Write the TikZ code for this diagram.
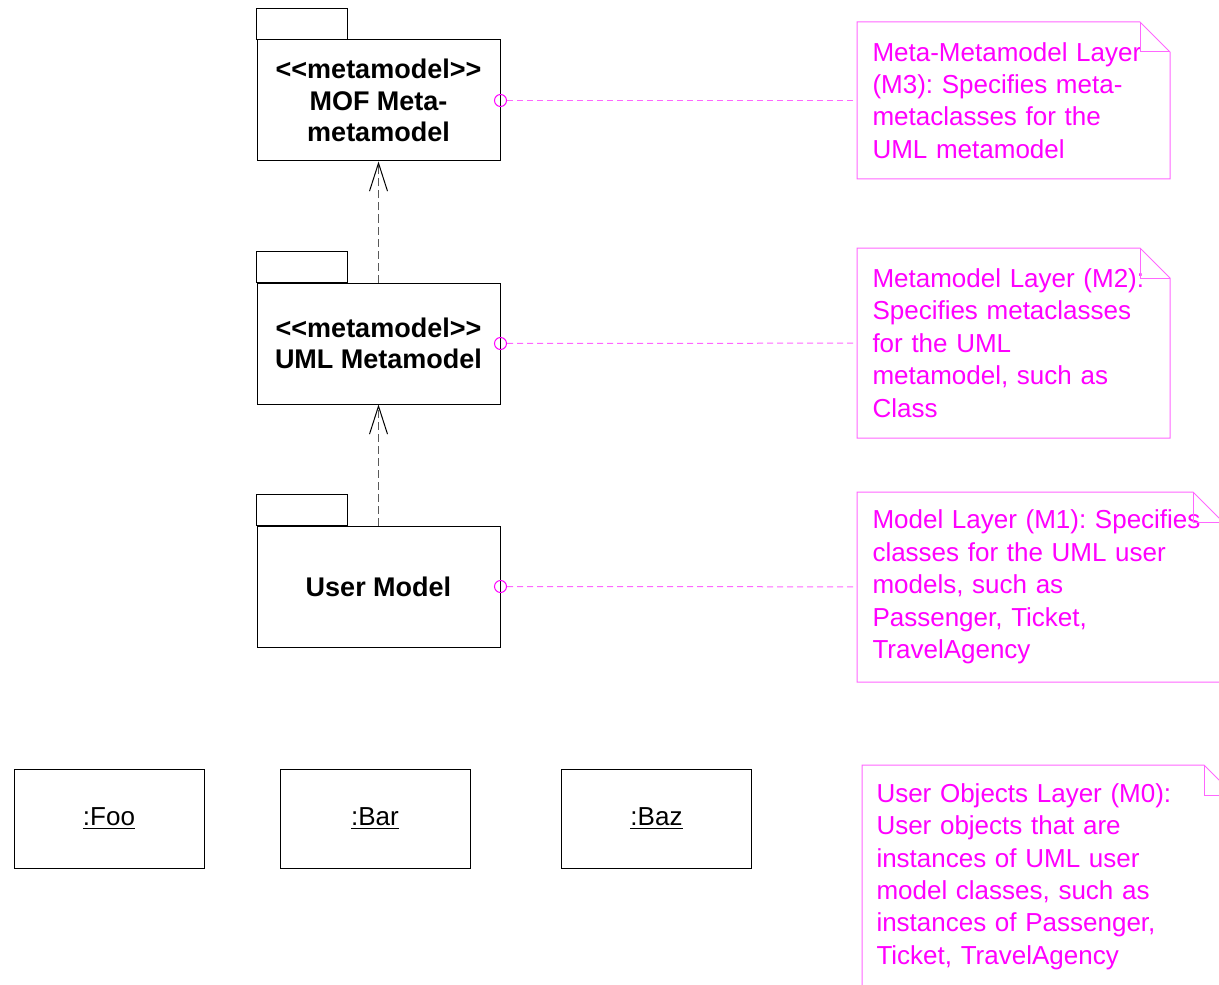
\documentclass[tikz,border=0pt]{standalone}
\usepackage{fontspec}
\setmainfont{Liberation Sans}
\usepackage{xcolor}
\usetikzlibrary{arrows.meta}
\definecolor{notepink}{rgb}{1,0,1}
\definecolor{noteline}{rgb}{1,0.4,1}
\definecolor{depgray}{rgb}{0.35,0.35,0.35}
\frenchspacing

\begin{document}
\begin{tikzpicture}[x=0.5pt, y=-0.5pt, line width=0.5pt,
	pkg/.style={draw=black, fill=white, minimum width=121.5pt, minimum height=60.5pt, inner sep=0pt, align=center, font=\fontsize{13.5}{15.75}\selectfont\bfseries},
	obj/.style={draw=black, minimum width=95pt, minimum height=49.5pt, inner sep=0pt, font=\fontsize{13}{16}\selectfont},
	notetext/.style={anchor=north west, text=notepink, align=left, inner xsep=7.5pt, inner ysep=0pt, font=\fontsize{13}{16.2}\selectfont},
	notebox/.style={draw=noteline},
	anchorring/.style={circle, draw=notepink, minimum size=6pt, inner sep=0pt},
	notelink/.style={draw=noteline, dash pattern=on 3pt off 2pt},
	dep/.style={draw=depgray, line width=0.6pt, dash pattern=on 4pt off 2pt, -{Straight Barb[length=14pt, width=9pt, black, line width=0.5pt]}}]
	\useasboundingbox (0,0) rectangle (1219,984);
	
	% Packages
	\node[pkg] (mof) at (378.5,100.5) {<{}<metamodel>{}>\\MOF Meta-\\metamodel};
	\draw (mof.north west) rectangle ++(91,-31);
	
	\node[pkg] (uml) at (378.5,343.5) {<{}<metamodel>{}>\\UML Metamodel};
	\draw (uml.north west) rectangle ++(91,-31);
	
	\node[pkg] (user) at (378.5,586.5) {User Model};
	\draw (user.north west) rectangle ++(91,-31);
	
	% Dependencies
	\draw[dep] (uml.north) -- (mof.south);
	\draw[dep] (user.north) -- (uml.south);
	
	% Objects
	\node[obj] (foo) at (109,818.5) {\underline{:Foo}};
	\node[obj] (bar) at (375,818.5) {\underline{:Bar}};
	\node[obj] (baz) at (656.5,818.5) {\underline{:Baz}};
	
	% Notes
	% M3
	\node[notetext, text width=141pt, minimum height=78pt] (m3) at (857,22)
	{Meta-Metamodel Layer\\(M3): Specifies meta-\\metaclasses for the\\UML metamodel};
	\draw[notebox] (m3.north west) -- ([xshift=-15pt]m3.north east) -- ([yshift=-15pt]m3.north east) -- (m3.south east) -- (m3.south west) -- cycle;
	\draw[notebox] ([xshift=-15pt]m3.north east) |- ([yshift=-15pt]m3.north east);
	
	% M2
	\node[notetext, text width=141pt, minimum height=94.5pt] (m2) at (857,248)
	{Metamodel Layer (M2):\\Specifies metaclasses\\for the UML\\metamodel, such as\\Class};
	\draw[notebox] (m2.north west) -- ([xshift=-15pt]m2.north east) -- ([yshift=-15pt]m2.north east) -- (m2.south east) -- (m2.south west) -- cycle;
	\draw[notebox] ([xshift=-15pt]m2.north east) |- ([yshift=-15pt]m2.north east);
	
	% M1
	\node[notetext, text width=167.5pt, minimum height=94.5pt] (m1) at (857,492)
	{Model Layer (M1): Specifies\\classes for the UML user\\models, such as\\Passenger, Ticket,\\TravelAgency};
	\draw[notebox] (m1.north west) -- ([xshift=-15pt]m1.north east) -- ([yshift=-15pt]m1.north east) -- (m1.south east) -- (m1.south west) -- cycle;
	\draw[notebox] ([xshift=-15pt]m1.north east) |- ([yshift=-15pt]m1.north east);
	
	% M0
	\node[notetext, inner xsep=7pt, text width=171.5pt, minimum height=111pt] (m0) at (862,765)
	{User Objects Layer (M0):\\User objects that are\\instances of UML user\\model classes, such as\\instances of Passenger,\\Ticket, TravelAgency};
	\draw[notebox] (m0.north west) -- ([xshift=-15pt]m0.north east) -- ([yshift=-15pt]m0.north east) -- (m0.south east) -- (m0.south west) -- cycle;
	\draw[notebox] ([xshift=-15pt]m0.north east) |- ([yshift=-15pt]m0.north east);
	
	% Note links
	\node[anchorring] (r3) at (mof.east) {};
	\draw[notelink] (r3) -- (m3);
	\node[anchorring] (r2) at (uml.east) {};
	\draw[notelink] (r2) -- (m2);
	\node[anchorring] (r1) at (user.east) {};
	\draw[notelink] (r1) -- (m1);
\end{tikzpicture}
\end{document}
